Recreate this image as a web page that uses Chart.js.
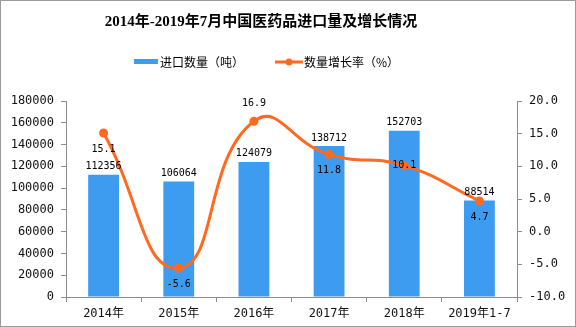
<!DOCTYPE html>
<html lang="zh-CN">
<head>
    <meta charset="UTF-8">
    <title>2014年-2019年7月中国医药品进口量及增长情况</title>
    <script src="https://cdn.jsdelivr.net/npm/chart.js@4.4.0/dist/chart.umd.min.js"></script>
    <style>
        html, body { margin: 0; padding: 0; background: #ffffff; }
        .chart-box { width: 576px; height: 327px; position: relative; }
    </style>
</head>
<body>
    <div class="chart-box">
        <canvas id="importChart" width="576" height="327"></canvas>
    </div>

    <script>
        // 数据
        const categories = ['2014年', '2015年', '2016年', '2017年', '2018年', '2019年1-7'];
        const importVolume = [112356, 106064, 124079, 138712, 152703, 88514];
        const growthRate = [15.1, -5.6, 16.9, 11.8, 10.1, 4.7];
        // 增长率标签位置（相对数据点）
        const rateLabelPlace = ['below', 'below', 'above', 'below', 'center', 'below'];

        const titleText = '2014年-2019年7月中国医药品进口量及增长情况';
        const barColor = '#3d9cf0';
        const lineColor = '#ff6a21';
        const axisColor = '#8c8c8c';
        const monoFont = '"DejaVu Sans Mono", "Noto Sans CJK SC", monospace';

        // 标题、图例、数据标签、边框
        const decorPlugin = {
            id: 'decor',
            afterDraw(chart) {
                const ctx = chart.ctx;
                ctx.save();

                // 边框
                ctx.strokeStyle = '#9a9a9a';
                ctx.lineWidth = 1;
                ctx.strokeRect(0.5, 0.5, chart.width - 1, chart.height - 1);

                // 标题
                ctx.fillStyle = '#000000';
                ctx.font = 'bold 15px "Liberation Serif", "Noto Sans CJK SC", serif';
                ctx.textAlign = 'center';
                ctx.textBaseline = 'middle';
                ctx.fillText(titleText, 261, 22);

                // 图例
                ctx.font = '12px "Noto Sans CJK SC", sans-serif';
                ctx.textAlign = 'left';
                ctx.fillStyle = barColor;
                ctx.fillRect(134, 59, 24, 5);
                ctx.fillStyle = '#000000';
                ctx.fillText(chart.data.datasets[0].label, 160, 62);

                ctx.strokeStyle = lineColor;
                ctx.lineWidth = 3;
                ctx.beginPath();
                ctx.moveTo(275, 62);
                ctx.lineTo(303, 62);
                ctx.stroke();
                ctx.fillStyle = lineColor;
                ctx.beginPath();
                ctx.arc(289, 62, 3.5, 0, Math.PI * 2);
                ctx.fill();
                ctx.fillStyle = '#000000';
                ctx.fillText(chart.data.datasets[1].label, 304, 62);

                // 数据标签
                ctx.font = '10px ' + monoFont;
                ctx.textAlign = 'center';
                ctx.textBaseline = 'middle';
                ctx.fillStyle = '#000000';
                const barMeta = chart.getDatasetMeta(0);
                barMeta.data.forEach((bar, i) => {
                    ctx.fillText(String(importVolume[i]), bar.x, bar.y - 8);
                });
                const lineMeta = chart.getDatasetMeta(1);
                lineMeta.data.forEach((pt, i) => {
                    let dy = 16;
                    if (rateLabelPlace[i] === 'above') dy = -18;
                    if (rateLabelPlace[i] === 'center') dy = 0;
                    ctx.fillText(growthRate[i].toFixed(1), pt.x, pt.y + dy);
                });

                ctx.restore();
            }
        };

        const ctx = document.getElementById('importChart').getContext('2d');
        const importChart = new Chart(ctx, {
            type: 'bar',
            data: {
                labels: categories,
                datasets: [
                    {
                        type: 'bar',
                        label: '进口数量（吨）',
                        data: importVolume,
                        backgroundColor: barColor,
                        yAxisID: 'y',
                        categoryPercentage: 1,
                        barPercentage: 0.41,
                        order: 2
                    },
                    {
                        type: 'line',
                        label: '数量增长率（%）',
                        data: growthRate,
                        borderColor: lineColor,
                        backgroundColor: lineColor,
                        borderWidth: 3,
                        pointRadius: 4.5,
                        pointBackgroundColor: lineColor,
                        pointBorderWidth: 0,
                        tension: 0.5,
                        yAxisID: 'y1',
                        order: 1
                    }
                ]
            },
            options: {
                responsive: false,
                animation: false,
                layout: {
                    padding: { top: 101, left: 0, right: 0, bottom: 0 }
                },
                plugins: {
                    legend: { display: false },
                    title: { display: false },
                    tooltip: { enabled: false }
                },
                scales: {
                    x: {
                        offset: true,
                        afterFit(scale) { scale.height = 30; },
                        grid: {
                            offset: true,
                            drawOnChartArea: false,
                            tickLength: 5,
                            color: axisColor
                        },
                        border: { color: axisColor },
                        ticks: {
                            color: '#111111',
                            padding: 5,
                            maxRotation: 0,
                            font: { family: monoFont, size: 12 }
                        }
                    },
                    y: {
                        position: 'left',
                        min: 0,
                        max: 180000,
                        afterFit(scale) { scale.width = 66; },
                        grid: {
                            drawOnChartArea: false,
                            tickLength: 5,
                            color: axisColor
                        },
                        border: { color: axisColor },
                        ticks: {
                            stepSize: 20000,
                            color: '#111111',
                            padding: 7,
                            font: { family: monoFont, size: 12 },
                            callback: (v) => String(v)
                        }
                    },
                    y1: {
                        position: 'right',
                        min: -10,
                        max: 20,
                        afterFit(scale) { scale.width = 59; },
                        grid: {
                            drawOnChartArea: false,
                            tickLength: 5,
                            color: axisColor
                        },
                        border: { color: axisColor },
                        ticks: {
                            stepSize: 5,
                            color: '#111111',
                            padding: 7,
                            font: { family: monoFont, size: 12 },
                            callback: (v) => Number(v).toFixed(1)
                        }
                    }
                }
            },
            plugins: [decorPlugin]
        });
    </script>
</body>
</html>
